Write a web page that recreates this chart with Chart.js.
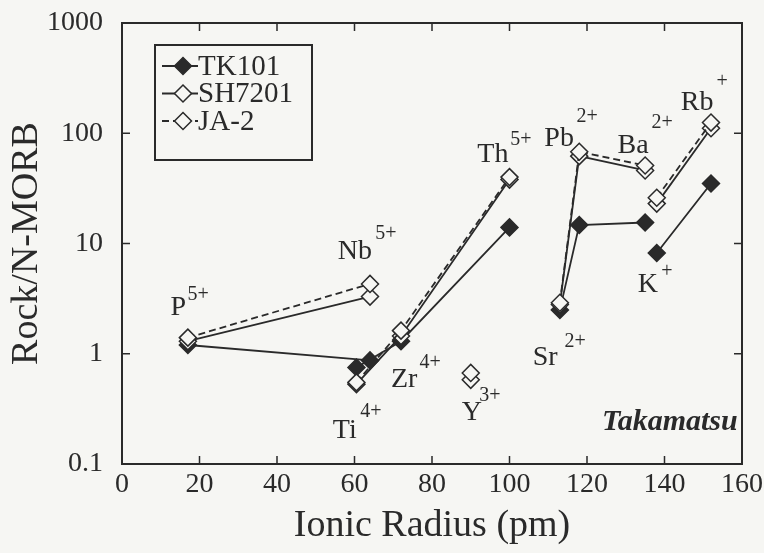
<!DOCTYPE html>
<html>
<head>
<meta charset="utf-8">
<script src="https://cdn.jsdelivr.net/npm/chart.js@4.4.1/dist/chart.umd.min.js"></script>
<style>
  html, body { margin: 0; padding: 0; background: #f6f6f3; }
  #wrap { width: 764px; height: 553px; }
</style>
</head>
<body>
<div id="wrap"><canvas id="c" width="764" height="553"></canvas></div>
<script>
// Element order and ionic radii (pm)
const elements    = ['P', 'Nb', 'Ti', 'Zr', 'Th', 'Y', 'Sr', 'Pb', 'Ba', 'K', 'Rb'];
const ionicRadius = [17, 64, 60.5, 72, 100, 90, 113, 118, 135, 138, 152];

// Rock / N-MORB ratios per sample
const tk101  = [1.2, 0.87, 0.75, 1.3, 14, null, 2.5, 14.7, 15.5, 8.2, 35];
const sh7201 = [1.3, 3.3, 0.53, 1.45, 38, 0.58, 2.8, 62, 46, 23, 111];
const ja2    = [1.4, 4.3, 0.55, 1.62, 40, 0.67, 2.9, 68, 51, 26, 125];

// Elements joined by a line (same valence group)
const groups = [['P', 'Nb'], ['Ti', 'Zr', 'Th'], ['Y'], ['Sr', 'Pb', 'Ba'], ['K', 'Rb']];

// Axis ticks
const xTicks = [0, 20, 40, 60, 80, 100, 120, 140, 160];
const yTicks = [0.1, 1, 10, 100, 1000];

// Element labels with valence superscripts (anchor in data units, sup offset in px)
const elementLabels = [
  { t: 'P',  s: '5+', x: 14.5,  y: 2.6,  dx: 20, dy: -13 },
  { t: 'Nb', s: '5+', x: 60.1,  y: 8.4,  dx: 31, dy: -18 },
  { t: 'Ti', s: '4+', x: 57.5,  y: 0.2,  dx: 26, dy: -19 },
  { t: 'Zr', s: '4+', x: 72.8,  y: 0.58, dx: 26, dy: -17 },
  { t: 'Y',  s: '3+', x: 90.3,  y: 0.29, dx: 18, dy: -17 },
  { t: 'Th', s: '5+', x: 95.7,  y: 63.5, dx: 28, dy: -15 },
  { t: 'Sr', s: '2+', x: 109.2, y: 0.93, dx: 30, dy: -15 },
  { t: 'Pb', s: '2+', x: 112.8, y: 88.7, dx: 28, dy: -22 },
  { t: 'Ba', s: '2+', x: 131.9, y: 78,   dx: 29, dy: -22 },
  { t: 'K',  s: '+',  x: 135.7, y: 4.2,  dx: 19, dy: -13 },
  { t: 'Rb', s: '+',  x: 148.4, y: 188,  dx: 25, dy: -21 }
];
const localityName = 'Takamatsu';

const INK = '#2a2a2a';
const BG = '#f6f6f3';
const SERIF = '"Liberation Serif", Tinos, "Times New Roman", Times, serif';

// Plot frame target (canvas px)
const AREA = { left: 122, top: 23, right: 742, bottom: 464 };
const pad = { left: 0, right: 22, top: 23, bottom: 0 };

// Build a line series with gaps between valence groups
function buildSeries(values) {
  const pts = [];
  groups.forEach(g => {
    g.forEach(el => {
      const i = elements.indexOf(el);
      pts.push({ x: ionicRadius[i], y: values[i] });
    });
    const last = elements.indexOf(g[g.length - 1]);
    pts.push({ x: ionicRadius[last], y: null });
  });
  return pts;
}

const series = [
  { label: 'TK101',  values: tk101,  fill: INK, dash: [],     order: 3 },
  { label: 'SH7201', values: sh7201, fill: BG,  dash: [],     order: 2 },
  { label: 'JA-2',   values: ja2,    fill: BG,  dash: [7, 4], order: 1 }
];

const datasets = series.map(s => ({
  label: s.label,
  data: buildSeries(s.values),
  order: s.order,
  borderColor: INK,
  borderWidth: 1.8,
  borderDash: s.dash,
  pointStyle: 'rectRot',
  pointRadius: 8.5,
  pointBorderWidth: 1.5,
  pointBorderColor: INK,
  pointBackgroundColor: s.fill,
  spanGaps: false,
  tension: 0,
  fill: false
}));

function diamond(ctx, x, y, r, fill) {
  ctx.save();
  ctx.setLineDash([]);
  ctx.beginPath();
  ctx.moveTo(x, y - r);
  ctx.lineTo(x + r, y);
  ctx.lineTo(x, y + r);
  ctx.lineTo(x - r, y);
  ctx.closePath();
  ctx.fillStyle = fill;
  ctx.fill();
  ctx.lineWidth = 1.5;
  ctx.strokeStyle = INK;
  ctx.stroke();
  ctx.restore();
}

// Frame with inward ticks on all four sides, labels and legend
const framePlugin = {
  id: 'frame',
  beforeDatasetsDraw(chart) {
    const { ctx, chartArea: a, scales } = chart;
    ctx.save();
    ctx.strokeStyle = INK;
    ctx.lineWidth = 2;
    ctx.strokeRect(a.left, a.top, a.right - a.left, a.bottom - a.top);
    const len = 8;
    ctx.lineWidth = 1.5;
    ctx.beginPath();
    xTicks.forEach(v => {
      const px = scales.x.getPixelForValue(v);
      ctx.moveTo(px, a.bottom); ctx.lineTo(px, a.bottom - len);
      ctx.moveTo(px, a.top);    ctx.lineTo(px, a.top + len);
    });
    yTicks.forEach(v => {
      const py = scales.y.getPixelForValue(v);
      ctx.moveTo(a.left, py);  ctx.lineTo(a.left + len, py);
      ctx.moveTo(a.right, py); ctx.lineTo(a.right - len, py);
    });
    ctx.stroke();
    ctx.restore();
  },
  afterDatasetsDraw(chart) {
    const { ctx, scales } = chart;
    ctx.save();
    ctx.fillStyle = INK;
    ctx.textAlign = 'center';
    ctx.textBaseline = 'middle';
    elementLabels.forEach(l => {
      const px = scales.x.getPixelForValue(l.x);
      const py = scales.y.getPixelForValue(l.y);
      ctx.font = '28px ' + SERIF;
      ctx.fillText(l.t, px, py);
      ctx.font = '20px ' + SERIF;
      ctx.fillText(l.s, px + l.dx, py + l.dy);
    });
    // locality name
    ctx.font = 'italic bold 30px ' + SERIF;
    ctx.fillText(localityName, scales.x.getPixelForValue(141.4), scales.y.getPixelForValue(0.24));

    // legend box
    const bx = 155, by = 45, bw = 157, bh = 115;
    ctx.fillStyle = BG;
    ctx.fillRect(bx, by, bw, bh);
    ctx.strokeStyle = INK;
    ctx.lineWidth = 2;
    ctx.strokeRect(bx, by, bw, bh);
    series.forEach((s, i) => {
      const yy = 66 + i * 27.5;
      ctx.save();
      ctx.strokeStyle = INK;
      ctx.lineWidth = 1.8;
      ctx.setLineDash(s.dash);
      ctx.beginPath();
      ctx.moveTo(162, yy); ctx.lineTo(198, yy);
      ctx.stroke();
      ctx.restore();
      diamond(ctx, 183, yy, 8.5, s.fill);
      ctx.fillStyle = INK;
      ctx.font = '29px ' + SERIF;
      ctx.textAlign = 'left';
      ctx.textBaseline = 'middle';
      ctx.fillText(s.label, 198, yy + 1);
    });
    ctx.restore();
  }
};

const bgPlugin = {
  id: 'bg',
  beforeDraw(chart) {
    const { ctx, width, height } = chart;
    ctx.save();
    ctx.fillStyle = BG;
    ctx.fillRect(0, 0, width, height);
    ctx.restore();
  }
};

const chart = new Chart(document.getElementById('c'), {
  type: 'line',
  data: { datasets },
  options: {
    responsive: false,
    animation: false,
    layout: { padding: pad },
    plugins: { legend: { display: false }, tooltip: { enabled: false } },
    scales: {
      x: {
        type: 'linear',
        min: 0, max: 160,
        afterBuildTicks: s => { s.ticks = xTicks.map(v => ({ value: v })); },
        afterFit: s => { s.height = 89; },
        // tick marks are drawn by the frame plugin; tickLength only spaces the labels
        grid: { display: false, drawTicks: true, tickLength: 4 },
        border: { display: false },
        ticks: { color: INK, padding: 0, maxRotation: 0, font: { family: SERIF, size: 28 } },
        title: { display: true, text: 'Ionic Radius (pm)', color: INK, padding: { top: 0, bottom: 4 },
                 font: { family: SERIF, size: 38 } }
      },
      y: {
        type: 'logarithmic',
        min: 0.1, max: 1000,
        afterBuildTicks: s => { s.ticks = yTicks.map(v => ({ value: v })); },
        afterFit: s => { s.width = 122; },
        grid: { display: false, drawTicks: true, tickLength: 19 },
        border: { display: false },
        ticks: { color: INK, padding: 0, font: { family: SERIF, size: 28 },
                 callback: v => String(v) },
        title: { display: true, text: 'Rock/N-MORB', color: INK, padding: { top: 4, bottom: 0 },
                 font: { family: SERIF, size: 38 } }
      }
    }
  },
  plugins: [bgPlugin, framePlugin]
});

// nudge the layout padding so the plot frame lands on the intended rectangle
(function settle() {
  const a = chart.chartArea;
  const lp = chart.config.options.layout.padding;
  const dt = AREA.top - a.top, dr = a.right - AREA.right, db = a.bottom - AREA.bottom;
  if (dt || dr || db) {
    lp.top = Math.max(0, lp.top + dt);
    lp.right = Math.max(0, lp.right + dr);
    lp.bottom = Math.max(0, lp.bottom + db);
    chart.update();
  }
})();
</script>
</body>
</html>
